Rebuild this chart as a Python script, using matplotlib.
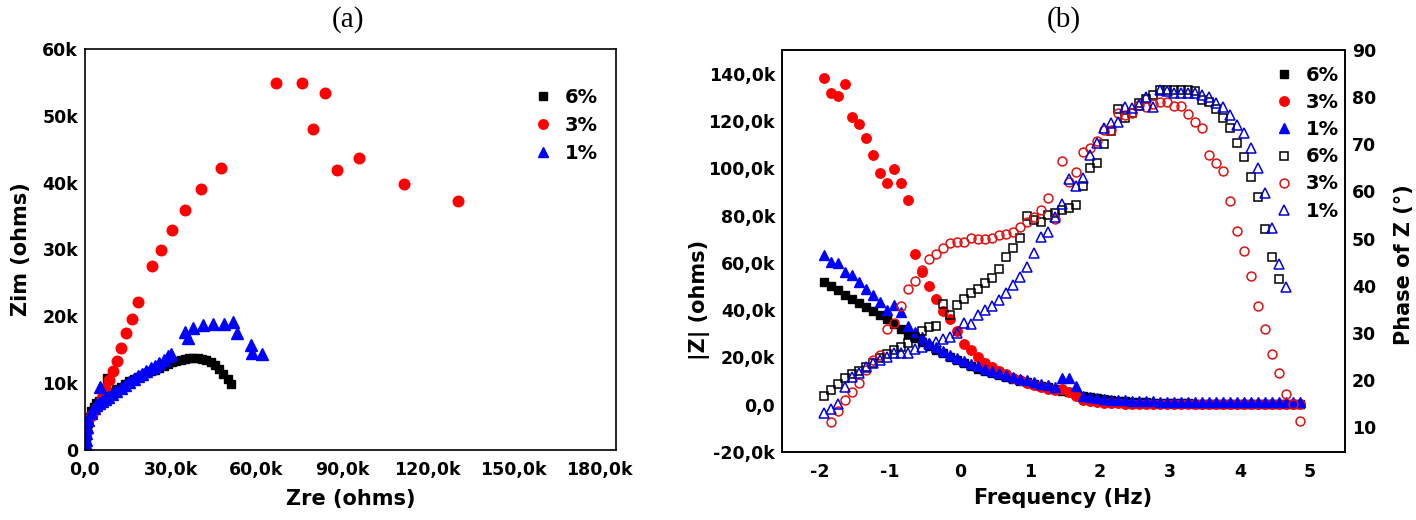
import numpy as np
import matplotlib
matplotlib.use('Agg')
import matplotlib.pyplot as plt

plt.rcParams['font.family'] = ['DejaVu Sans']
plt.rcParams['font.weight'] = 'bold'

# ── (a) Nyquist plot, values in k ohms ───────────────────────────────────────
ZRE_6 = [0.1, 0.2, 0.4, 0.6, 1.0, 1.5, 2.2, 3.0, 4.0, 5.0, 6.0, 7.7, 7.0, 8.2,
         9.5, 11.0, 12.5, 14.0, 15.5, 17.0, 18.5, 20.0, 21.5, 23.0, 24.5, 26.0,
         27.5, 29.0, 30.5, 32.0, 33.5, 35.0, 36.5, 38.0, 39.5, 41.0, 42.5, 44.0,
         45.5, 47.0, 48.5, 50.0, 51.0]
ZIM_6 = [0.3, 1.0, 2.0, 3.0, 4.0, 5.0, 5.8, 6.5, 7.0, 7.4, 7.7, 10.8, 7.9, 8.3,
         8.7, 9.1, 9.5, 9.9, 10.3, 10.6, 10.9, 11.2, 11.5, 11.8, 12.0, 12.3,
         12.6, 12.9, 13.1, 13.3, 13.5, 13.6, 13.7, 13.8, 13.7, 13.6, 13.4, 13.1,
         12.7, 12.1, 11.4, 10.6, 9.9]

ZRE_3 = [0.1, 0.2, 1.1, 2.5, 4.2, 6.0, 7.0, 8.4, 9.8, 11.2, 12.6, 14.4, 16.5,
         18.6, 23.5, 26.7, 30.5, 35.1, 40.7, 47.7, 67.0, 76.1, 80.0, 83.9, 88.4,
         96.1, 111.9, 130.5]
ZIM_3 = [3.0, 2.5, 4.5, 5.2, 6.4, 7.8, 9.3, 10.5, 11.8, 13.3, 15.3, 17.5, 19.6,
         22.2, 27.5, 29.9, 32.9, 35.9, 39.1, 42.2, 54.9, 54.9, 48.1, 53.4, 41.9,
         43.7, 39.8, 37.3]

ZRE_1 = [0.1, 0.2, 0.3, 0.5, 0.8, 1.2, 2.0, 3.0, 5.3, 4.0, 5.0, 6.0, 7.0, 8.0,
         9.5, 11.0, 12.5, 14.0, 15.5, 17.0, 18.5, 20.0, 21.5, 23.0, 24.5, 26.0,
         27.5, 29.0, 30.0, 35.1, 36.1, 37.9, 41.4, 44.9, 48.8, 51.9, 53.3, 58.2,
         58.6, 62.1]
ZIM_1 = [0.3, 0.8, 1.5, 2.5, 3.5, 4.5, 5.5, 6.3, 9.4, 6.8, 7.1, 7.3, 7.6, 8.0,
         8.4, 8.9, 9.3, 9.8, 10.2, 10.6, 11.0, 11.4, 11.8, 12.2, 12.6, 13.0,
         13.5, 14.0, 14.4, 17.7, 16.8, 18.3, 18.7, 18.9, 18.9, 19.2, 17.5, 15.7,
         14.5, 14.4]

# ── (b) Bode plot: log10 frequency, |Z| (k ohms), phase (deg) ────────────────
LOGF = [-1.94, -1.84, -1.74, -1.64, -1.54, -1.44, -1.34, -1.24, -1.14, -1.04,
        -0.94, -0.84, -0.74, -0.64, -0.54, -0.44, -0.34, -0.24, -0.14, -0.04,
        0.06, 0.16, 0.26, 0.36, 0.46, 0.56, 0.66, 0.76, 0.86, 0.96,
        1.06, 1.16, 1.26, 1.36, 1.46, 1.56, 1.66, 1.76, 1.86, 1.96,
        2.06, 2.16, 2.26, 2.36, 2.46, 2.56, 2.66, 2.76, 2.86, 2.96,
        3.06, 3.16, 3.26, 3.36, 3.46, 3.56, 3.66, 3.76, 3.86, 3.96,
        4.06, 4.16, 4.26, 4.36, 4.46, 4.56, 4.66, 4.76, 4.86]

MOD_6 = [51.9, 50.0, 48.3, 46.6, 44.9, 43.2, 41.5, 39.8, 38.0, 36.2,
         34.2, 32.0, 30.0, 28.0, 26.5, 24.8, 23.3, 21.8, 20.3, 18.9,
         17.6, 16.4, 15.3, 14.3, 13.4, 12.5, 11.7, 10.9, 10.1, 9.4,
         8.7, 8.0, 7.3, 6.6, 5.9, 5.2, 4.5, 3.8, 3.2, 2.7,
         2.3, 2.0, 1.7, 1.5, 1.3, 1.1, 1.0, 0.9, 0.8, 0.7,
         0.65, 0.6, 0.55, 0.5, 0.5, 0.45, 0.45, 0.4, 0.4, 0.4,
         0.35, 0.35, 0.35, 0.3, 0.3, 0.3, 0.3, 0.3, 0.3]
MOD_3 = [138.3, 131.9, 130.6, 135.7, 121.7, 118.7, 112.8, 105.5, 97.9, 93.6,
         99.6, 93.6, 86.4, 63.8, 56.2, 50.2, 44.7, 39.6, 36.2, 31.0,
         25.5, 23.0, 20.0, 17.8, 15.8, 14.2, 12.8, 11.5, 10.3, 9.2,
         8.2, 7.3, 6.5, 6.2, 6.5, 5.5, 3.5, 2.2, 1.5, 1.1,
         0.9, 0.7, 0.6, 0.5, 0.4, 0.4, 0.35, 0.3, 0.3, 0.3,
         0.25, 0.25, 0.25, 0.2, 0.2, 0.2, 0.2, 0.2, 0.2, 0.2,
         0.2, 0.2, 0.2, 0.2, 0.2, 0.2, 0.2, 0.2, 0.2]
MOD_1 = [63.4, 60.4, 60.0, 56.2, 54.9, 51.9, 48.9, 46.4, 43.4, 40.0,
         42.1, 39.1, 33.2, 30.6, 28.5, 26.3, 24.5, 22.8, 21.2, 19.8,
         18.5, 17.3, 16.2, 15.2, 14.3, 13.4, 12.6, 11.8, 11.0, 10.3,
         9.6, 8.9, 8.2, 7.6, 11.5, 11.5, 7.7, 3.8, 3.2, 2.8,
         2.5, 2.2, 2.0, 1.8, 1.7, 1.6, 1.5, 1.4, 1.3, 1.3,
         1.2, 1.2, 1.2, 1.1, 1.1, 1.1, 1.1, 1.0, 1.0, 1.0,
         1.0, 1.0, 1.0, 1.0, 1.0, 1.0, 1.0, 1.0, 1.0]

NAN = float('nan')
PH_6 = [16.6, 17.9, 19.1, 20.4, 21.3, 21.9, 22.7, 23.6, 24.6, 25.5,
        26.3, 27.0, 27.8, 29.1, 30.4, 31.2, 31.4, 36.1, 33.8, 35.9,
        37.2, 38.4, 39.3, 40.6, 41.6, 43.5, 46.1, 48.0, 50.1, 54.8,
        54.0, 53.5, 55.0, 55.5, 56.0, 56.5, 57.1, 61.2, 65.0, 66.1,
        70.1, 72.8, 77.5, 75.6, 76.7, 78.8, 79.5, 80.5, 81.5, 81.5,
        81.5, 81.5, 81.5, 81.3, 79.4, 79.0, 77.5, 75.6, 73.5, 70.3,
        67.3, 63.1, 58.8, 52.0, 46.1, 41.4, NAN, NAN, NAN]
PH_3 = [NAN, 11.1, 13.5, 15.7, 17.5, 19.3, 22.0, 24.2, 25.3, 30.8,
        32.1, 35.7, 39.3, 41.0, 43.3, 45.7, 46.7, 48.0, 49.1, 49.3,
        49.3, 50.1, 49.9, 49.9, 50.1, 50.8, 51.0, 51.4, 52.5, 53.5,
        54.6, 56.1, 58.5, 54.2, 66.5, 62.0, 64.1, 68.4, 69.2, 70.7,
        73.1, 73.1, 76.7, 76.2, 76.7, 78.4, 77.9, 78.6, 79.0, 79.0,
        78.2, 78.2, 76.5, 74.8, 73.5, 67.7, 66.1, 64.4, 58.0, 51.6,
        47.3, 42.1, 35.7, 30.8, 25.5, 21.5, 17.0, 14.9, 11.3]
PH_1 = [13.0, 13.8, 14.9, 18.5, 20.6, 21.5, 22.7, 23.6, 24.2, 24.9,
        25.7, 25.7, 25.7, 26.6, 27.0, 27.6, 28.0, 28.7, 29.1, 30.0,
        32.1, 31.9, 33.8, 34.8, 35.7, 37.0, 38.4, 40.1, 41.8, 44.0,
        46.9, 50.3, 51.4, 54.6, 57.3, 62.6, 61.2, 62.9, 67.8, 70.3,
        73.5, 74.5, 74.8, 77.9, 77.7, 78.4, 80.1, 77.9, 81.5, 81.2,
        80.8, 80.8, 80.8, 80.8, 80.5, 80.1, 78.8, 77.9, 76.2, 74.1,
        72.4, 69.2, 65.0, 59.7, 52.2, 44.6, 39.7, NAN, NAN]

LABELS = ['6%', '3%', '1%']
COLORS = ['#000000', '#ff0000', '#0000ff']
MARKERS = ['s', 'o', '^']

TICK_FS = 12.5
LABEL_FS = 15
LEG_FS = 14


def style_axes(ax):
    for sp in ax.spines.values():
        sp.set_linewidth(1.2)
    ax.tick_params(length=0, labelsize=TICK_FS, pad=5)


fig = plt.figure(figsize=(14.16, 5.2), dpi=100)

# ── Panel (a) ────────────────────────────────────────────────────────────────
ax = fig.add_axes([85 / 1416, 70 / 520, 531 / 1416, 401 / 520])
k = 1000.0
for zr, zi, lab, c, m, ms in zip([ZRE_6, ZRE_3, ZRE_1], [ZIM_6, ZIM_3, ZIM_1],
                                  LABELS, COLORS, MARKERS, [6.2, 7.6, 8.4]):
    ax.plot(np.array(zr) * k, np.array(zi) * k, ls='none', marker=m, ms=ms,
            color=c, mec=c, label=lab)
ax.set_xlim(0, 186000)
ax.set_ylim(0, 60000)
ax.set_xticks([0, 30000, 60000, 90000, 120000, 150000, 180000],
              ['0,0', '30,0k', '60,0k', '90,0k', '120,0k', '150,0k', '180,0k'])
ax.set_yticks([0, 10000, 20000, 30000, 40000, 50000, 60000],
              ['0', '10k', '20k', '30k', '40k', '50k', '60k'])
style_axes(ax)
ax.tick_params(axis='x', pad=8)
ax.set_xlabel('Zre (ohms)', fontsize=LABEL_FS, fontweight='bold')
ax.set_ylabel('Zim (ohms)', fontsize=LABEL_FS, fontweight='bold')
ax.xaxis.set_label_coords(0.5, -0.097)
ax.yaxis.set_label_coords(-0.102, 0.5)
ax.legend(loc='upper left', bbox_to_anchor=(0.83, 0.922), frameon=False,
          fontsize=LEG_FS, handletextpad=0.6, labelspacing=0.45,
          handlelength=1.0, borderaxespad=0, markerscale=0.9)
fig.text(348 / 1416, 1 - 20 / 520, '(a)', ha='center', va='center',
         fontsize=21, family='Liberation Serif', fontweight='normal')

# ── Panel (b) ────────────────────────────────────────────────────────────────
axb = fig.add_axes([782 / 1416, 68 / 520, 563 / 1416, 402 / 520])
handles = []
for mod, lab, c, m, ms in zip([MOD_6, MOD_3, MOD_1], LABELS, COLORS, MARKERS,
                              [5.6, 6.8, 7.4]):
    h, = axb.plot(LOGF, np.array(mod) * k, ls='none', marker=m, ms=ms,
                  color=c, mec=c, label=lab)
    handles.append(h)
axb.set_xlim(-2.54, 5.5)
axb.set_ylim(-20000, 150000)
axb.set_xticks([-2, -1, 0, 1, 2, 3, 4, 5], ['-2', '-1', '0', '1', '2', '3', '4', '5'])
axb.set_yticks([-20000, 0, 20000, 40000, 60000, 80000, 100000, 120000, 140000],
               ['-20,0k', '0,0', '20,0k', '40,0k', '60,0k', '80,0k', '100,0k',
                '120,0k', '140,0k'])
style_axes(axb)
axb.tick_params(axis='x', pad=8)
axb.set_xlabel('Frequency (Hz)', fontsize=LABEL_FS, fontweight='bold')
axb.set_ylabel('|Z| (ohms)', fontsize=LABEL_FS, fontweight='bold')
axb.xaxis.set_label_coords(0.5, -0.09)
axb.yaxis.set_label_coords(-0.127, 0.378)

axr = axb.twinx()
ph_colors = ['#000000', '#e01010', '#0000e0']
for ph, lab, c, m, ms in zip([PH_6, PH_3, PH_1], LABELS, ph_colors, MARKERS,
                             [5.8, 6.4, 7.4]):
    h, = axr.plot(LOGF, ph, ls='none', marker=m, ms=ms, mfc='none', mec=c,
                  mew=1.1, label=lab)
    handles.append(h)
axr.set_ylim(4.7, 90)
axr.set_yticks([10, 20, 30, 40, 50, 60, 70, 80, 90])
style_axes(axr)
axr.set_ylabel('Phase of Z (°)', fontsize=LABEL_FS, fontweight='bold')
axr.yaxis.set_label_coords(1.087, 0.465)
axr.legend(handles=handles, labels=LABELS * 2, loc='upper left',
           bbox_to_anchor=(0.861, 0.98), frameon=False, fontsize=LEG_FS,
           handletextpad=0.6, labelspacing=0.42, handlelength=1.0,
           borderaxespad=0)
fig.text(1064 / 1416, 1 - 20 / 520, '(b)', ha='center', va='center',
         fontsize=21, family='Liberation Serif', fontweight='normal')

fig.savefig('out.png', dpi=100)
